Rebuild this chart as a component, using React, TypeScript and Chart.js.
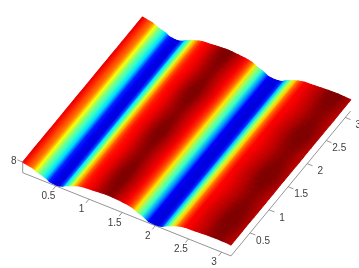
import React, { useEffect, useRef } from "react";
import { Chart, registerables } from "chart.js";

Chart.register(...registerables);

const CANVAS_W = 359;
const CANVAS_H = 268;

const xStep = 0.05;
const zByX = [
  7.99, 7.935, 7.88, 7.83, 7.68, 7.556, 7.473, 7.374, 7.17, 7.127, 7.10, 7.115, 7.215, 7.396, 7.517, 7.649,
  7.77, 7.869, 7.93, 7.957, 7.974, 7.995, 8.023, 8.05, 8.072, 8.089, 8.10, 8.089, 8.06, 8.034, 8.006, 7.974,
  7.93, 7.858, 7.715, 7.561, 7.473, 7.308, 7.137, 7.11, 7.10, 7.11, 7.18, 7.352, 7.50, 7.62, 7.737, 7.847,
  7.913, 7.963, 7.974, 7.99, 8.007, 8.023, 8.04, 8.056, 8.078, 8.089, 8.10, 8.10, 8.089, 8.073, 8.056, 8.04,
];
// small ripple along y on the ridges (every 0.1)
const yStep = 0.1;
const zRippleByY = [
  -0.008, -0.002, 0.004, 0.009, 0.012, 0.009, 0.004, -0.003, -0.009, -0.012, -0.009, -0.002, 0.006, 0.012, 0.011, 0.005,
  -0.002, -0.008, -0.012, -0.008, 0.0, 0.008, 0.012, 0.009, 0.002, -0.005, -0.011, -0.011, -0.004, 0.004, 0.01, 0.012, 0.008,
];
const zMin = 7.0;
const zMax = 8.1;

const xTicks = [0.5, 1, 1.5, 2, 2.5, 3];
const yTicks = [0.5, 1, 1.5, 2, 2.5, 3];
const zTicks = [8];

// view projection (axes-box corner and unit vectors on the page)
const ORIGIN = { px: 22.7, py: 172.7 };
const EX = { px: 66.3, py: 26.5 };
const EY = { px: 38.1, py: -46.15 };
const EZ = -10.7;
const AXIS_END = Math.PI;

const project = (x: number, y: number, z: number) => ({
  x: ORIGIN.px + x * EX.px + y * EY.px,
  y: ORIGIN.py + x * EX.py + y * EY.py + (z - zMin) * EZ,
});

const jet = (t: number) => {
  const c = (v: number) => Math.round(255 * Math.max(0, Math.min(1, v)));
  const r = Math.min(4 * t - 1.5, -4 * t + 4.5);
  const g = Math.min(4 * t - 0.5, -4 * t + 3.5);
  const b = Math.min(4 * t + 0.5, -4 * t + 2.5);
  return `rgb(${c(r)},${c(g)},${c(b)})`;
};

const zAt = (i: number, j: number) => {
  const base = zByX[i];
  const w = Math.max(0, (base - 7.88) / 0.22);
  return base + zRippleByY[j] * w;
};
const tOf = (z: number) => Math.max(0, Math.min(1, (z - zMin) / (zMax - zMin)));

const axisColor = "#7a7a7a";

export default function App() {
  const ref = useRef<HTMLCanvasElement>(null);

  useEffect(() => {
    document.body.style.margin = "0";
    const canvas = ref.current!;
    const g2d = canvas.getContext("2d")!;
    const painted: any[] = [];

    const axisPaths = [
      [project(0, 0, zMin), project(AXIS_END, 0, zMin)],
      [project(AXIS_END, 0, zMin), project(AXIS_END, AXIS_END, zMin)],
      [project(0, 0, zMin), project(0, 0, 8)],
    ];
    const tickLen = 0.08;
    xTicks.forEach((v) => axisPaths.push([project(v, 0, zMin), project(v, -tickLen, zMin)]));
    yTicks.forEach((v) => axisPaths.push([project(AXIS_END, v, zMin), project(AXIS_END + tickLen, v, zMin)]));
    zTicks.forEach((v) => axisPaths.push([project(0, 0, v), project(-tickLen, 0, v)]));
    axisPaths.forEach((p) =>
      painted.push({
        data: p,
        showLine: true,
        fill: false,
        borderColor: axisColor,
        borderWidth: 0.8,
        pointRadius: 0,
      })
    );

    for (let j = zRippleByY.length - 1; j > 0; j--) {
      for (let i = 0; i < zByX.length - 1; i++) {
        const x0 = i * xStep;
        const x1 = Math.min((i + 1) * xStep, AXIS_END);
        const y0 = (j - 1) * yStep;
        const y1 = Math.min(j * yStep, AXIS_END);
        const a = project(x0, y0, zAt(i, j - 1));
        const b = project(x1, y0, zAt(i + 1, j - 1));
        const c = project(x1, y1, zAt(i + 1, j));
        const d = project(x0, y1, zAt(i, j));
        // colour runs across the cell so that equal colours lie along the y direction
        const ex = d.x - a.x;
        const ey = d.y - a.y;
        const nx = -ey;
        const ny = ex;
        const s = ((b.x - a.x) * nx + (b.y - a.y) * ny) / (nx * nx + ny * ny);
        const grad = g2d.createLinearGradient(a.x, a.y, a.x + nx * s, a.y + ny * s);
        const midT = (tOf(zAt(i, j - 1)) + tOf(zAt(i + 1, j - 1)) + tOf(zAt(i, j)) + tOf(zAt(i + 1, j))) / 4;
        const dT = (tOf(zAt(i + 1, j - 1)) - tOf(zAt(i, j - 1))) / 2;
        grad.addColorStop(0, jet(midT - dT));
        grad.addColorStop(1, jet(midT + dT));
        painted.push({
          data: [a, b, c, d, a],
          showLine: true,
          fill: "shape",
          backgroundColor: grad,
          borderColor: grad,
          borderWidth: 1.1,
          borderJoinStyle: "round",
          pointRadius: 0,
          tension: 0,
        });
      }
    }

    // Chart.js paints the last dataset first
    const datasets = painted.reverse();

    const labelsPlugin = {
      id: "tickLabels",
      afterDatasetsDraw(chart: any) {
        const { ctx, scales } = chart;
        const put = (text: string, p: { x: number; y: number }, dx: number, dy: number) => {
          ctx.fillText(text, scales.x.getPixelForValue(p.x) + dx, scales.y.getPixelForValue(p.y) + dy);
        };
        ctx.save();
        ctx.font = '10px "Liberation Sans"';
        ctx.fillStyle = "#404040";
        ctx.textAlign = "center";
        ctx.textBaseline = "middle";
        xTicks.forEach((v) => put(String(v), project(v, 0, zMin), -7.5, 10.5));
        yTicks.forEach((v) => put(String(v), project(AXIS_END, v, zMin), 13, 8));
        zTicks.forEach((v) => put(String(v), project(0, 0, v), -9, -1));
        ctx.restore();
      },
    };

    const chart = new Chart(canvas, {
      type: "scatter",
      data: { datasets },
      options: {
        animation: false,
        responsive: false,
        layout: { padding: 0 },
        events: [],
        scales: {
          x: { type: "linear", min: 0, max: CANVAS_W, display: false },
          y: { type: "linear", min: 0, max: CANVAS_H, reverse: true, display: false },
        },
        plugins: { legend: { display: false }, tooltip: { enabled: false } },
      },
      plugins: [labelsPlugin],
    } as any);
    return () => chart.destroy();
  }, []);

  return <canvas ref={ref} width={CANVAS_W} height={CANVAS_H} style={{ display: "block" }} />;
}
